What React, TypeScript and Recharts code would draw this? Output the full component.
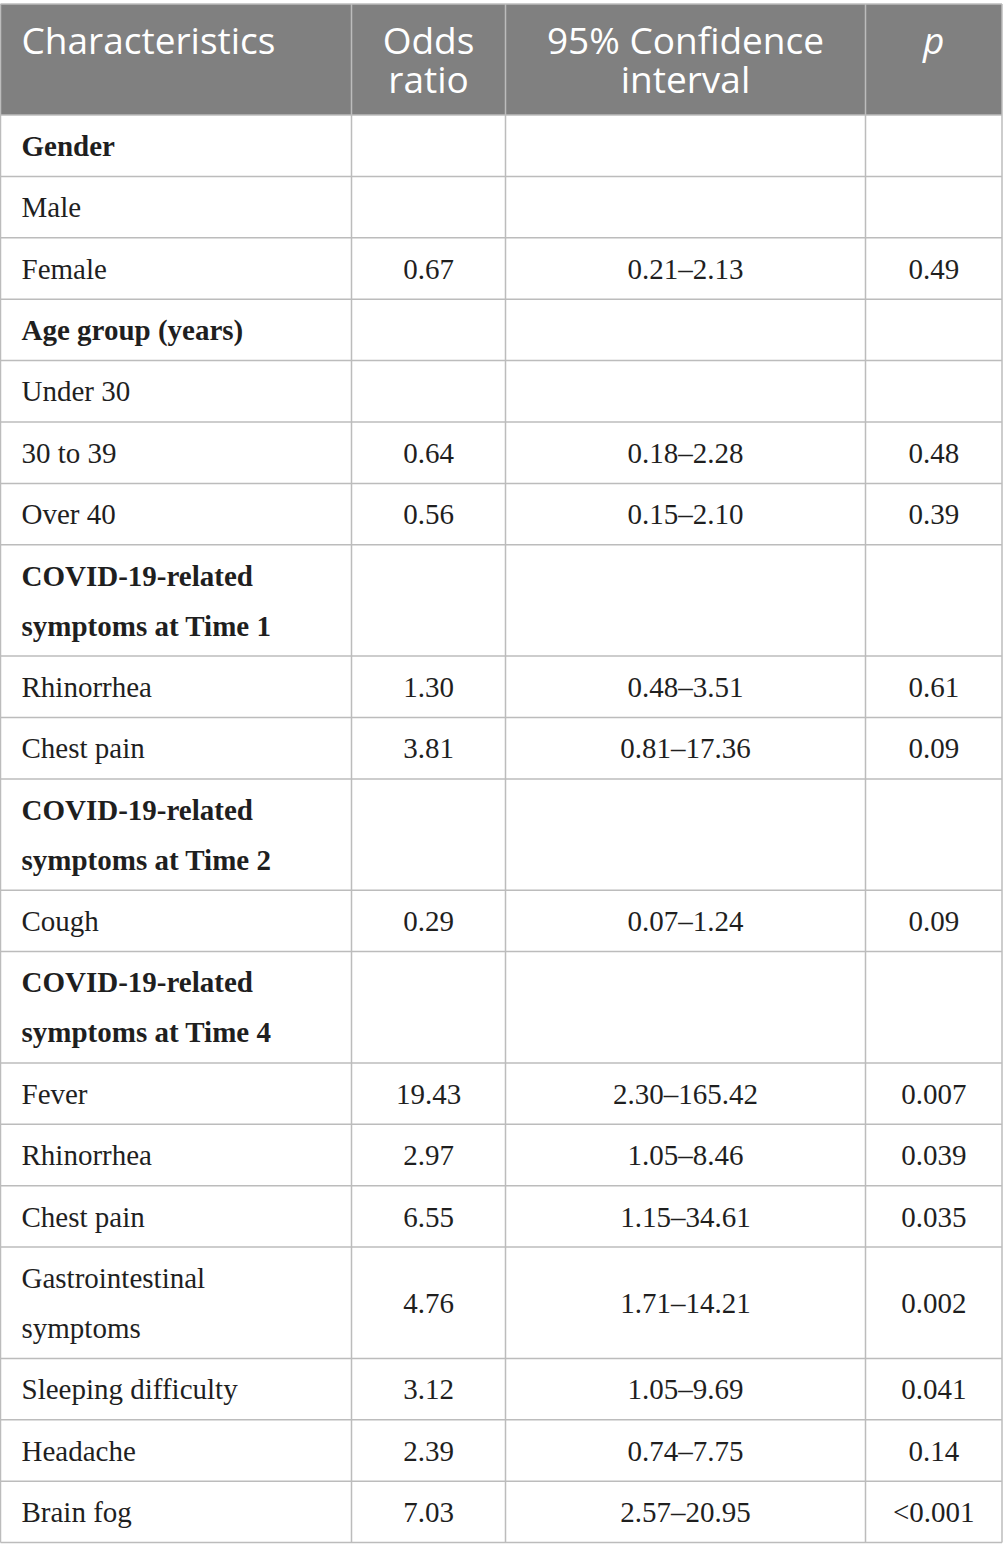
import { ComposedChart, Scatter, XAxis, YAxis, ReferenceLine, ReferenceArea } from "recharts"

const headers = ["Characteristics", "Odds\nratio", "95% Confidence\ninterval", "p"]

const characteristics = [
  "Gender", "Male", "Female", "Age group (years)", "Under 30", "30 to 39", "Over 40",
  "COVID-19-related\nsymptoms at Time 1", "Rhinorrhea", "Chest pain",
  "COVID-19-related\nsymptoms at Time 2", "Cough",
  "COVID-19-related\nsymptoms at Time 4", "Fever", "Rhinorrhea", "Chest pain",
  "Gastrointestinal\nsymptoms", "Sleeping difficulty", "Headache", "Brain fog",
]
const groupRows = [0, 3, 7, 10, 12]
const oddsRatios = ["", "", "0.67", "", "", "0.64", "0.56", "", "1.30", "3.81", "", "0.29", "", "19.43", "2.97", "6.55", "4.76", "3.12", "2.39", "7.03"]
const confidenceIntervals = ["", "", "0.21–2.13", "", "", "0.18–2.28", "0.15–2.10", "", "0.48–3.51", "0.81–17.36", "", "0.07–1.24", "", "2.30–165.42", "1.05–8.46", "1.15–34.61", "1.71–14.21", "1.05–9.69", "0.74–7.75", "2.57–20.95"]
const pValues = ["", "", "0.49", "", "", "0.48", "0.39", "", "0.61", "0.09", "", "0.09", "", "0.007", "0.039", "0.035", "0.002", "0.041", "0.14", "<0.001"]

// layout (in page pixels)
const W = 1003
const H = 1560
const colEdges = [0.5, 351.5, 505.5, 865.5, 1002]
const TABLE_TOP = 4
const HEADER_BOTTOM = 115
const HEADER_FIRST_LINE = 41
const SINGLE_H = 61.4
const DOUBLE_H = 111.3
const PAD_LEFT = 21

const rowEdges: number[] = [HEADER_BOTTOM]
characteristics.forEach((c) => {
  const last = rowEdges[rowEdges.length - 1]
  rowEdges.push(last + (c.includes("\n") ? DOUBLE_H : SINGLE_H))
})

type Cell = { x: number; y: number; text: string; col: number; bold?: boolean; header?: boolean }

const cells: Cell[] = []
headers.forEach((h, col) => {
  cells.push({
    x: col === 0 ? colEdges[0] + PAD_LEFT : (colEdges[col] + colEdges[col + 1]) / 2,
    y: HEADER_FIRST_LINE,
    text: h,
    col,
    header: true,
  })
})
const columns = [characteristics, oddsRatios, confidenceIntervals, pValues]
columns.forEach((values, col) => {
  values.forEach((v, row) => {
    if (!v) return
    cells.push({
      x: col === 0 ? colEdges[0] + PAD_LEFT : (colEdges[col] + colEdges[col + 1]) / 2,
      y: (rowEdges[row] + rowEdges[row + 1]) / 2,
      text: v,
      col,
      bold: col === 0 && groupRows.includes(row),
    })
  })
})

function CellText(props: any) {
  const { cx, cy, payload } = props
  const lines: string[] = payload.text.split("\n")
  const header = payload.header
  const lineH = header ? 39 : 50
  // header cells are top aligned, body cells are centred in their row
  const firstY = header ? cy : cy - ((lines.length - 1) / 2) * lineH
  return (
    <text
      x={cx}
      textAnchor={payload.col === 0 ? "start" : "middle"}
      fontFamily={header ? "'Open Sans', sans-serif" : "'Liberation Serif', serif"}
      fontSize={header ? 37 : 29}
      fontWeight={payload.bold ? 700 : 400}
      fontStyle={header && payload.col === 3 ? "italic" : "normal"}
      fill={header ? "#ffffff" : "#1f1f1f"}
    >
      {lines.map((l, i) => (
        <tspan key={i} x={cx} y={firstY + i * lineH} dy="0.35em">
          {l}
        </tspan>
      ))}
    </text>
  )
}

export default function App() {
  const lineColor = "#bcbcbc"
  return (
    <div style={{ position: "absolute", left: 0, top: 0, width: W, height: H, background: "#fff" }}>
      <ComposedChart width={W} height={H} margin={{ top: 0, right: 0, bottom: 0, left: 0 }} data={cells}>
        <XAxis type="number" dataKey="x" domain={[0, W]} hide />
        <YAxis type="number" dataKey="y" domain={[0, H]} reversed hide />
        <ReferenceArea x1={colEdges[0]} x2={colEdges[4]} y1={TABLE_TOP} y2={HEADER_BOTTOM} fill="#808080" fillOpacity={1} stroke="none" />
        {rowEdges.map((y, i) => (
          <ReferenceLine key={"r" + i} segment={[{ x: colEdges[0], y }, { x: colEdges[4], y }]} stroke={lineColor} strokeWidth={1.5} />
        ))}
        <ReferenceLine segment={[{ x: colEdges[0], y: TABLE_TOP }, { x: colEdges[4], y: TABLE_TOP }]} stroke={lineColor} strokeWidth={1.5} />
        {colEdges.map((x, i) => (
          <ReferenceLine key={"c" + i} segment={[{ x, y: TABLE_TOP }, { x, y: rowEdges[rowEdges.length - 1] }]} stroke={lineColor} strokeWidth={1.5} />
        ))}
        <Scatter dataKey="y" data={cells} shape={CellText} isAnimationActive={false} />
      </ComposedChart>
    </div>
  )
}
